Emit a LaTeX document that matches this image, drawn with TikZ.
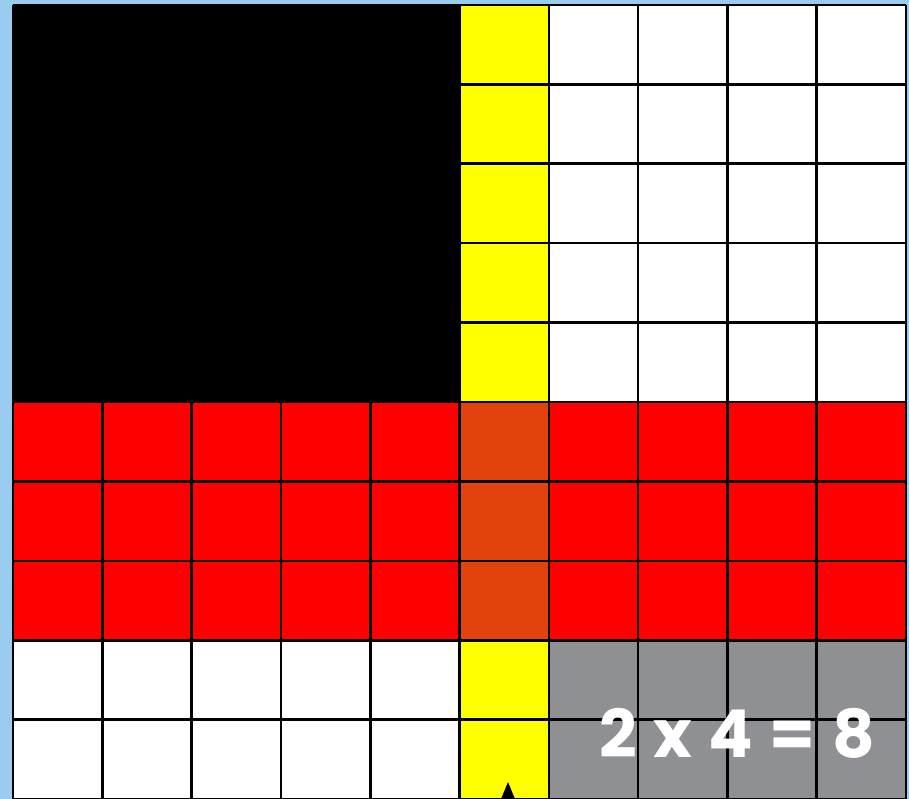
\documentclass[tikz,border=0pt]{standalone}
\usepackage{fontspec}
\newfontfamily\popp{Poppins}
\definecolor{skyb}{HTML}{99CCEE}
\definecolor{ylw}{HTML}{FFFF00}
\definecolor{rd}{HTML}{FF0000}
\definecolor{orng}{HTML}{E2420E}
\definecolor{gry}{HTML}{8F9094}
\tikzset{gridline/.style={black,line width=2.6pt}}
\begin{document}
\begin{tikzpicture}[x=1pt,y=-1pt]
\fill[skyb] (0,0) rectangle (909,799);
\useasboundingbox (0,0) rectangle (909,799);
\def\cw{89.3}\def\rh{79.4}
% fills: col c, row r
\newcommand\cell[3]{\fill[#3] ({13+#1*\cw},{5+#2*\rh}) rectangle ({13+(#1+1)*\cw},{5+(#2+1)*\rh});}
\foreach \c in {0,...,9}{\foreach \r in {0,...,9}{\cell{\c}{\r}{white}}}
\fill[black] (13,5) rectangle ({13+5*\cw},{5+5*\rh});
\foreach \r in {0,...,4,8,9}{\cell{5}{\r}{ylw}}
\foreach \r in {5,6,7}{\cell{5}{\r}{orng}}
\foreach \c in {0,...,4,6,7,8,9}{\foreach \r in {5,6,7}{\cell{\c}{\r}{rd}}}
\foreach \c in {6,...,9}{\foreach \r in {8,9}{\cell{\c}{\r}{gry}}}
% grid lines
\foreach \i in {5,...,10}{\draw[gridline] ({13+\i*\cw},5) -- ({13+\i*\cw},799);}
\foreach \i in {0,...,4}{\draw[gridline] ({13+\i*\cw},{5+5*\rh}) -- ({13+\i*\cw},799);}
\foreach \j in {0,...,10}{\draw[gridline] ({13+5*\cw},{5+\j*\rh}) -- (906,{5+\j*\rh});}
\foreach \j in {5,...,10}{\draw[gridline] (13,{5+\j*\rh}) -- ({13+5*\cw},{5+\j*\rh});}
\draw[gridline] (13,5) -- ({13+5*\cw},5);
\draw[gridline] (13,5) -- (13,{5+5*\rh});
% small marker
\fill[black] (508,782) -- (515,799) -- (501,799) -- cycle;
\node[text=white,font={\popp\bfseries\fontsize{66}{66}\selectfont},anchor=center,inner sep=0pt] (eq) at (737,733) {2\hspace{0.25em}x\hspace{0.25em}4\hspace{0.25em}=\hspace{0.25em}8};
\end{tikzpicture}
\end{document}
